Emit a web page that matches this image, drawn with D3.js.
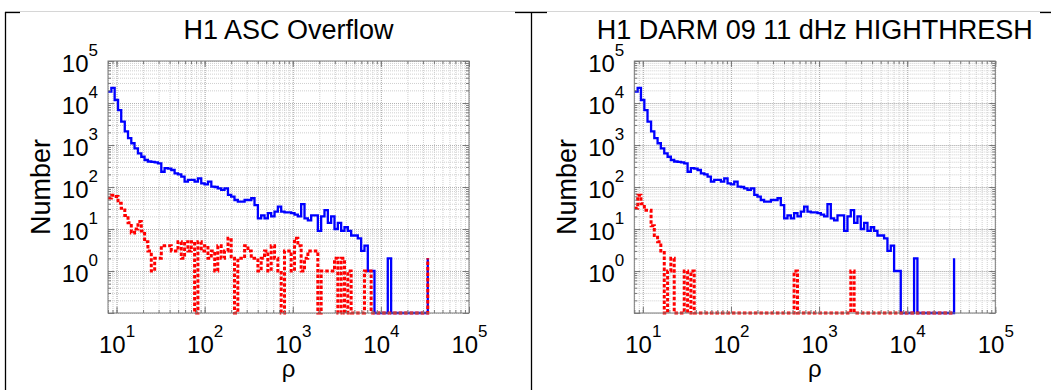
<!DOCTYPE html>
<html>
<head>
<meta charset="utf-8">
<script src="https://cdn.jsdelivr.net/npm/d3@7"></script>
<style>
body { margin: 0; background: #fff; }
svg { display: block; font-family: "Liberation Sans", Arial, Helvetica, sans-serif; }
.grid line { stroke: #cfcfcf; stroke-dasharray: 1,1; }
.grid.major line { stroke: #b2b2b2; }
.grid path, .ticks path { display: none; }
.ticks line { stroke: #7a7a7a; }
.lbl text { fill: #000; }
</style>
</head>
<body>
<svg id="chart" width="1051" height="390"></svg>
<script>
// histogram bin left edges (rho)
var rhoEdges = [
  8.00, 8.73, 9.52, 10.4, 11.3, 12.4, 13.5, 14.7, 16.0, 17.5,
  19.1, 20.8, 22.7, 24.8, 27.1, 29.5, 32.2, 35.1, 38.3, 41.8,
  45.6, 49.8, 54.3, 59.2, 64.6, 70.5, 76.9, 83.9, 91.5, 99.8,
  109, 119, 130, 141, 154, 168, 184, 200, 218, 238,
  260, 284, 310, 338, 368, 402, 438, 478, 521, 569,
  621, 677, 739, 806, 879, 959, 1047, 1142, 1245, 1359,
  1483, 1618, 1765, 1925, 2100, 2291, 2500, 2727, 2975, 3246,
  3541, 3863, 4215, 4597, 5015, 5471, 5969, 6512, 7104, 7750,
  8455, 9224, 10063, 10978, 11977, 13066, 14255, 15551, 16966, 18509,
  20193, 22029, 24032, 26218, 28603, 31205, 34043
];
// all triggers (blue, same in both panels)
var allCounts = [
  18600, 23000, 11800, 6800, 3600, 2100, 1450, 1100, 830, 630,
  525, 440, 405, 395, 385, 366, 231, 280, 275, 254,
  212, 200, 176, 134, 147, 147, 134, 161, 122, 116,
  134, 102, 100, 93, 85, 93, 65, 59, 49, 45,
  45, 49, 49, 54, 37, 18, 21, 18, 24, 20,
  26, 34, 26, 25, 25, 24, 22, 20, 39, 18,
  16, 21, 21, 9, 20, 28, 14, 20, 10, 14,
  9, 11, 9, 7, 7, 6, 3, 4, 1, 1,
  0, 0, 0, 0, 2, 0, 0, 0, 0, 0,
  0, 0, 0, 0, 0, 0, 2
];
// vetoed triggers (red dashed)
var ascCounts = [
  55, 64, 59, 41, 31, 21, 14, 8, 10, 15,
  9, 5, 3, 1, 2, 2, 4, 4, 4, 3,
  3, 5, 2, 5, 3, 5, 0, 5, 3, 4,
  2, 3, 1, 4, 2, 3, 6, 2, 0, 2,
  2, 4, 3, 2, 2, 1, 2, 3, 1, 4,
  2, 1, 0, 3, 3, 1, 6, 4, 1, 2,
  3, 3, 3, 0, 1, 1, 1, 1, 2, 0,
  2, 0, 1, 0, 0, 0, 0, 1, 1, 0,
  0, 0, 0, 0, 0, 0, 0, 0, 0, 0,
  0, 0, 0, 0, 0, 0, 2
];
var darmCounts = [
  31, 64, 40, 28, 28, 12, 7, 5, 3, 0,
  1, 2, 0, 0, 0, 1, 0, 1, 0, 0,
  0, 0, 0, 0, 0, 0, 0, 0, 0, 0,
  0, 0, 0, 0, 0, 0, 0, 0, 0, 0,
  0, 0, 0, 0, 0, 0, 0, 0, 1, 0,
  0, 0, 0, 0, 0, 0, 0, 0, 0, 0,
  0, 0, 0, 0, 0, 1, 0, 0, 0, 0,
  0, 0, 0, 0, 0, 0, 0, 0, 0, 0,
  0, 0, 0, 0, 0, 0, 0, 0, 0, 0,
  0, 0, 0, 0, 0, 0, 0
];
var panelTitles = ['H1 ASC Overflow', 'H1 DARM 09 11 dHz HIGHTHRESH'];
var xTickExps = [1, 2, 3, 4, 5];
var yTickExps = [0, 1, 2, 3, 4, 5];
var xLabel = '\u03c1';
var yLabel = 'Number';

var svg = d3.select('#chart');
var W = 361, H = 252, TOP = 61;

// page frame (thin grey top rule, black corners and cell edges)
svg.append('line').attr('x1', 5).attr('x2', 1051).attr('y1', 11.5).attr('y2', 11.5)
	.attr('stroke', '#d6d6d6');
[[5.5, 5.5, 12, 390], [531.5, 531.5, 12, 390], [5, 20, 12.5, 12.5],
 [515, 547, 12.5, 12.5], [1040, 1051, 12.5, 12.5]].forEach(function(s){
	svg.append('line').attr('x1', s[0]).attr('x2', s[1]).attr('y1', s[2]).attr('y2', s[3])
		.attr('stroke', '#000').attr('stroke-width', 1.3);
});

function tenPower(sel, rise){
	sel.each(function(d){
		var t = d3.select(this).text(null);
		t.append('tspan').attr('font-size', 24).text('10');
		t.append('tspan').attr('font-size', 17).attr('dy', -rise)
			.text(Math.round(Math.log10(d)));
	});
}

function drawPanel(left, title, redCounts){
	var x = d3.scaleLog().domain([8, 1e5]).range([left, left + W]);
	var y = d3.scaleLog().domain([0.1, 1e5]).range([TOP + H, TOP]);
	var xAll = x.ticks(), yAll = y.ticks();
	var xMajor = xTickExps.map(function(e){ return Math.pow(10, e); });
	var yMajor = yTickExps.concat([-1]).map(function(e){ return Math.pow(10, e); });
	var g = svg.append('g');

	// grid
	g.append('g').attr('class', 'grid').attr('transform', 'translate(0,' + (TOP + H) + ')')
		.call(d3.axisBottom(x).tickValues(xAll).tickSize(-H).tickFormat(''));
	g.append('g').attr('class', 'grid').attr('transform', 'translate(' + left + ',0)')
		.call(d3.axisLeft(y).tickValues(yAll).tickSize(-W).tickFormat(''));
	g.append('g').attr('class', 'grid major').attr('transform', 'translate(0,' + (TOP + H) + ')')
		.call(d3.axisBottom(x).tickValues(xMajor.slice(0, 4)).tickSize(-H).tickFormat(''));
	g.append('g').attr('class', 'grid major').attr('transform', 'translate(' + left + ',0)')
		.call(d3.axisLeft(y).tickValues(yMajor.slice(0, 5)).tickSize(-W).tickFormat(''));

	// stairs
	var line = d3.line()
		.x(function(d){ return x(d[0]); })
		.y(function(d){ return y(Math.max(d[1], 0.1)); })
		.curve(d3.curveStepAfter);
	g.append('path').datum(d3.zip(rhoEdges, allCounts)).attr('d', line)
		.attr('fill', 'none').attr('stroke', '#0000ff').attr('stroke-width', 2.3);
	g.append('path').datum(d3.zip(rhoEdges, redCounts)).attr('d', line)
		.attr('fill', 'none').attr('stroke', '#ff0000').attr('stroke-width', 3)
		.attr('stroke-dasharray', '3.5,2');

	// inward ticks on all four sides
	var sides = [
		[d3.axisBottom, 'translate(0,' + (TOP + H) + ')', x, xAll, xMajor],
		[d3.axisTop, 'translate(0,' + TOP + ')', x, xAll, xMajor],
		[d3.axisLeft, 'translate(' + left + ',0)', y, yAll, yMajor],
		[d3.axisRight, 'translate(' + (left + W) + ',0)', y, yAll, yMajor]
	];
	sides.forEach(function(s){
		g.append('g').attr('class', 'ticks').attr('transform', s[1])
			.call(s[0](s[2]).tickValues(s[3]).tickSize(-3).tickFormat(''));
		g.append('g').attr('class', 'ticks').attr('transform', s[1])
			.call(s[0](s[2]).tickValues(s[4]).tickSize(-6).tickFormat(''));
	});

	g.append('rect').attr('x', left).attr('y', TOP).attr('width', W).attr('height', H)
		.attr('fill', 'none').attr('stroke', '#7a7a7a');

	// tick labels
	var xl = g.append('g').attr('class', 'lbl').attr('transform', 'translate(0,' + (TOP + H) + ')')
		.call(d3.axisBottom(x).tickValues(xMajor).tickSize(0));
	xl.select('.domain').remove();
	xl.attr('font-size', null).attr('font-family', null);
	xl.selectAll('.tick text').attr('y', 39.5).attr('dy', null).call(tenPower, 16);

	var yl = g.append('g').attr('class', 'lbl').attr('transform', 'translate(' + left + ',0)')
		.call(d3.axisLeft(y).tickValues(yMajor.slice(0, 6)).tickSize(0));
	yl.select('.domain').remove();
	yl.attr('font-size', null).attr('font-family', null);
	yl.selectAll('.tick text').attr('x', -10).attr('y', 10).attr('dy', null).call(tenPower, 16);

	// titles
	svg.append('text').attr('x', left + W / 2).attr('y', 39).attr('text-anchor', 'middle')
		.attr('font-size', 27).text(title);
	svg.append('text').attr('transform', 'translate(' + (left - 58) + ',' + (TOP + H / 2) + ') rotate(-90)')
		.attr('text-anchor', 'middle').attr('font-size', 27).text(yLabel);
	svg.append('text').attr('x', left + W / 2).attr('y', 377).attr('text-anchor', 'middle')
		.attr('font-size', 24).text(xLabel);
}

drawPanel(108, panelTitles[0], ascCounts);
drawPanel(634.3, panelTitles[1], darmCounts);
</script>
</body>
</html>
